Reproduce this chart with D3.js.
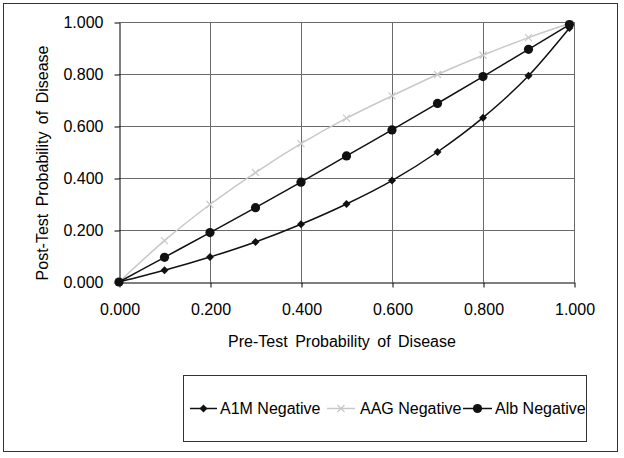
<!DOCTYPE html>
<html><head><meta charset="utf-8">
<script src="https://cdn.jsdelivr.net/npm/d3@7"></script>
<style>body{margin:0;background:#fff}svg{display:block;font-family:"Liberation Sans",Arial,sans-serif}</style>
</head><body><svg id="c" width="624" height="458"></svg>
<script>
const pre = [0, 0.1, 0.2, 0.3, 0.4, 0.5, 0.6, 0.7, 0.8, 0.9, 0.99];
const a1m = [0, 0.045, 0.096, 0.154, 0.222, 0.300, 0.390, 0.500, 0.632, 0.793, 0.977];
const aag = [0, 0.159, 0.298, 0.421, 0.532, 0.630, 0.716, 0.798, 0.872, 0.940, 0.994];
const alb = [0, 0.095, 0.190, 0.286, 0.384, 0.485, 0.585, 0.687, 0.790, 0.895, 0.990];
const ticks = [0, 0.2, 0.4, 0.6, 0.8, 1.0];
const seriesNames = ["A1M Negative", "AAG Negative", "Alb Negative"];

const svg = d3.select("#c");
svg.append("rect").attr("x",3.5).attr("y",3.5).attr("width",614).attr("height",448)
  .attr("fill","#fff").attr("stroke","#333").attr("stroke-width",1);

const x = d3.scaleLinear().domain([0,1]).range([119,574]);
const y = d3.scaleLinear().domain([0,1]).range([282,22]);

const g = svg.append("g");
g.selectAll(".vg").data(ticks.slice(1)).join("line")
  .attr("x1",d=>x(d)+0.5).attr("x2",d=>x(d)+0.5).attr("y1",y(1)).attr("y2",y(0))
  .attr("stroke","#6a6a6a").attr("stroke-width",1);
g.selectAll(".hg").data(ticks.slice(1)).join("line")
  .attr("y1",d=>y(d)+0.5).attr("y2",d=>y(d)+0.5).attr("x1",x(0)).attr("x2",x(1))
  .attr("stroke","#6a6a6a").attr("stroke-width",1);

const fmt = d3.format(".3f");
const xa = svg.append("g").attr("transform",`translate(0.5,${y(0)+0.5})`)
  .call(d3.axisBottom(x).tickValues(ticks).tickFormat(fmt).tickSize(5).tickSizeOuter(0));
const ya = svg.append("g").attr("transform",`translate(${x(0)+0.5},0.5)`)
  .call(d3.axisLeft(y).tickValues(ticks).tickFormat(fmt).tickSize(5).tickSizeOuter(0));
[xa,ya].forEach(a=>{
  a.select(".domain").attr("stroke","#000");
  a.selectAll(".tick line").attr("stroke","#000");
  a.selectAll("text").attr("font-size",16).attr("fill","#000").attr("font-family","Liberation Sans, Arial, sans-serif");
});
xa.selectAll("text").attr("dy",0).attr("y",32);
ya.selectAll("text").attr("x",-16);

svg.append("text").attr("x",342).attr("y",347).attr("text-anchor","middle")
  .attr("font-size",16).attr("word-spacing",3).text("Pre-Test Probability of Disease");
svg.append("text").attr("transform",`translate(48,163) rotate(-90)`)
  .attr("text-anchor","middle").attr("font-size",16).attr("word-spacing",3).text("Post-Test Probability of Disease");

const series = [
  {name:seriesNames[0], vals:a1m, color:"#111", marker:"diamond"},
  {name:seriesNames[1], vals:aag, color:"#c8c8c8", marker:"x"},
  {name:seriesNames[2], vals:alb, color:"#111", marker:"circle"}
];
const line = d3.line().x(d=>x(d[0])).y(d=>y(d[1])).curve(d3.curveMonotoneX);

function marker(sel, type, color){
  if(type==="diamond"){
    sel.append("path").attr("d","M0,-4L4,0L0,4L-4,0Z").attr("fill",color);
  } else if(type==="x"){
    sel.append("path").attr("d","M-3.5,-3.5L3.5,3.5M-3.5,3.5L3.5,-3.5").attr("stroke",color).attr("stroke-width",1.2);
  } else {
    sel.append("circle").attr("r",4.6).attr("fill",color);
  }
}

series.forEach(s=>{
  const pts = pre.map((p,i)=>[p,s.vals[i]]);
  svg.append("path").datum(pts).attr("d",line).attr("fill","none")
    .attr("stroke",s.color).attr("stroke-width",1.5);
  pts.forEach(p=>{
    const m = svg.append("g").attr("transform",`translate(${x(p[0])},${y(p[1])})`);
    marker(m,s.marker,s.color);
  });
});

svg.append("rect").attr("x",183.5).attr("y",375.5).attr("width",403).attr("height",66)
  .attr("fill","#fff").attr("stroke","#333");
const legX = [[190,217,220],[327,355,360],[463,492,495]];
series.forEach((s,i)=>{
  const [a,b,t] = legX[i];
  svg.append("line").attr("x1",a).attr("x2",b).attr("y1",408.5).attr("y2",408.5)
    .attr("stroke",s.color).attr("stroke-width",1.5);
  const m = svg.append("g").attr("transform",`translate(${(a+b)/2},408.5)`);
  marker(m,s.marker,s.color);
  svg.append("text").attr("x",t).attr("y",414).attr("font-size",16).text(s.name);
});
</script></body></html>
